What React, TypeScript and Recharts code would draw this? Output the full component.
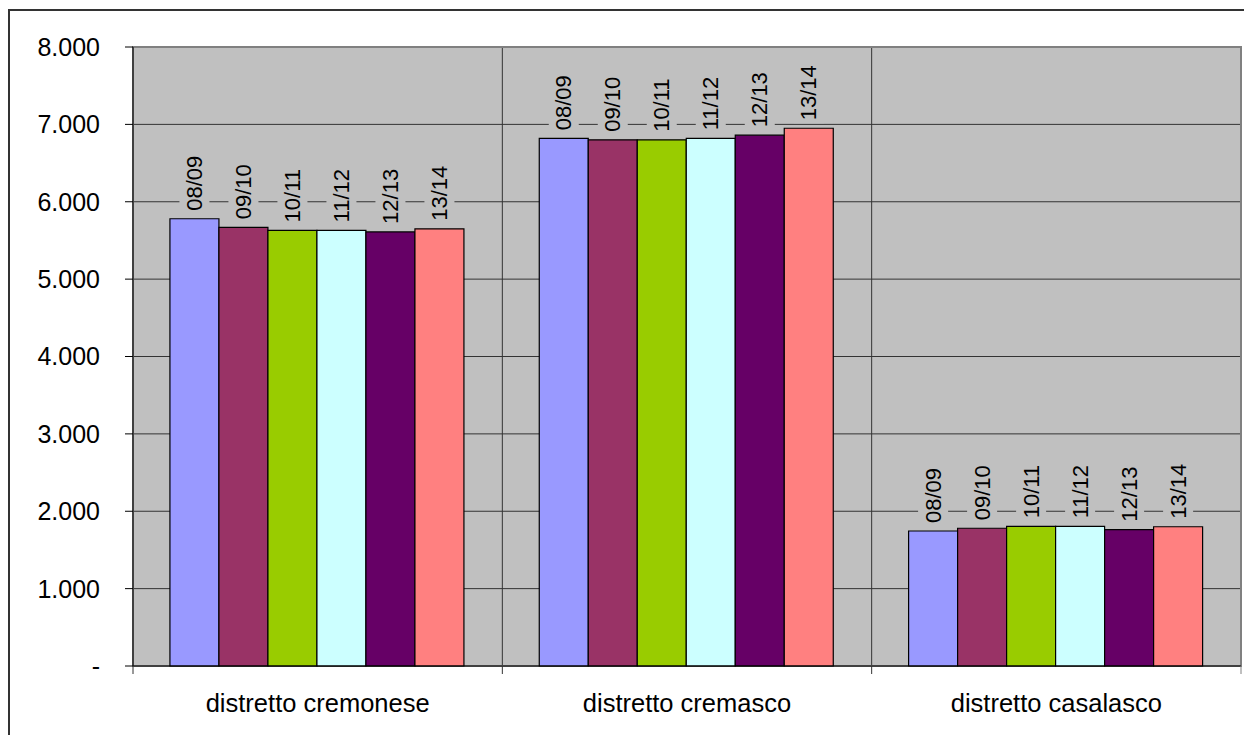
import {
  BarChart,
  Bar,
  XAxis,
  YAxis,
  CartesianGrid,
  ReferenceArea,
  LabelList,
} from "recharts";

const CATEGORIES = ["distretto cremonese", "distretto cremasco", "distretto casalasco"];
const SEASONS = ["08/09", "09/10", "10/11", "11/12", "12/13", "13/14"];
const COLORS = ["#9999FF", "#993366", "#99CC00", "#CCFFFF", "#660066", "#FF8080"];

const S0809 = [5780, 6820, 1745];
const S0910 = [5670, 6800, 1780];
const S1011 = [5630, 6800, 1805];
const S1112 = [5630, 6820, 1805];
const S1213 = [5610, 6860, 1762];
const S1314 = [5650, 6950, 1800];

const Y_TICKS = [0, 1000, 2000, 3000, 4000, 5000, 6000, 7000, 8000];

const SERIES = [S0809, S0910, S1011, S1112, S1213, S1314];

const data = CATEGORIES.map((name, i) => {
  const row: Record<string, string | number> = { name };
  SEASONS.forEach((s, j) => (row[s] = SERIES[j][i]));
  return row;
});

const W = 1244;
const H = 735;
const FONT = "Arial, 'Liberation Sans', sans-serif";
const AXIS_W = 133;
const RIGHT = 3;
const CAT_W = (W - AXIS_W - RIGHT) / CATEGORIES.length;

const fmt = (v: number) =>
  v === 0 ? "-" : String(v).replace(/\B(?=(\d{3})+(?!\d))/g, ".");

function BarLabel(props: any) {
  const { x, y, width, text } = props;
  const cx = x + width / 2;
  const base = y - 8;
  return (
    <g>
      <rect x={cx - 15} y={base - 56} width={30} height={59} fill="#C0C0C0" />
      <text
        transform={`translate(${cx},${base}) rotate(-90)`}
        textAnchor="start"
        dominantBaseline="central"
        fontSize={22}
        fontFamily={FONT}
        fill="#000"
      >
        {text}
      </text>
    </g>
  );
}

function CatTick(props: any) {
  const { x, payload, index } = props;
  const axisY = H - 69;
  const left = x - CAT_W / 2;
  return (
    <g>
      <line x1={left} x2={left} y1={axisY} y2={axisY + 8} stroke="#333" />
      {index === CATEGORIES.length - 1 && (
        <line x1={left + CAT_W} x2={left + CAT_W} y1={axisY} y2={axisY + 8} stroke="#808080" />
      )}
      <text x={x} y={axisY + 46} textAnchor="middle" fontSize={25.5} fontFamily={FONT} fill="#000">
        {payload.value}
      </text>
    </g>
  );
}

export default function App() {
  return (
    <div style={{ position: "relative", width: W, height: H, overflow: "hidden", background: "#fff" }}>
      <style>{`body{margin:0;overflow:hidden}`}</style>
      <div
        style={{
          position: "absolute",
          left: 8,
          top: 9,
          width: W,
          height: H,
          borderTop: "2px solid #333",
          borderLeft: "2px solid #333",
        }}
      />
      <div style={{ position: "absolute", left: 0, top: 0 }}>
        <BarChart
          width={W}
          height={H}
          data={data}
          margin={{ top: 47, right: RIGHT, bottom: 0, left: 0 }}
          barCategoryGap="10%"
          barGap={0}
        >
          <CartesianGrid
            fill="#C0C0C0"
            stroke="#333"
            strokeDasharray=""
            verticalCoordinatesGenerator={({ offset }: any) =>
              [1, 2].map((i) => offset.left + (i * offset.width) / 3)
            }
          />
          <ReferenceArea y1={0} y2={8000} fill="none" stroke="#808080" strokeWidth={2} ifOverflow="visible" />
          <XAxis
            dataKey="name"
            height={69}
            axisLine={{ stroke: "#000" }}
            tickLine={false}
            tick={<CatTick />}
            interval={0}
          />
          <YAxis
            width={AXIS_W}
            domain={[0, 8000]}
            ticks={Y_TICKS}
            tickFormatter={fmt}
            axisLine={{ stroke: "#000" }}
            tickLine={{ stroke: "#000" }}
            tickSize={8}
            tickMargin={25}
            tick={{ fontSize: 25, fontFamily: FONT, fill: "#000" }}
          />
          {SEASONS.map((s, i) => (
            <Bar
              key={s}
              dataKey={s}
              fill={COLORS[i]}
              stroke="#000"
              strokeWidth={1.2}
              isAnimationActive={false}
            >
              <LabelList dataKey={s} content={(p: any) => <BarLabel {...p} text={s} />} />
            </Bar>
          ))}
        </BarChart>
      </div>
    </div>
  );
}
